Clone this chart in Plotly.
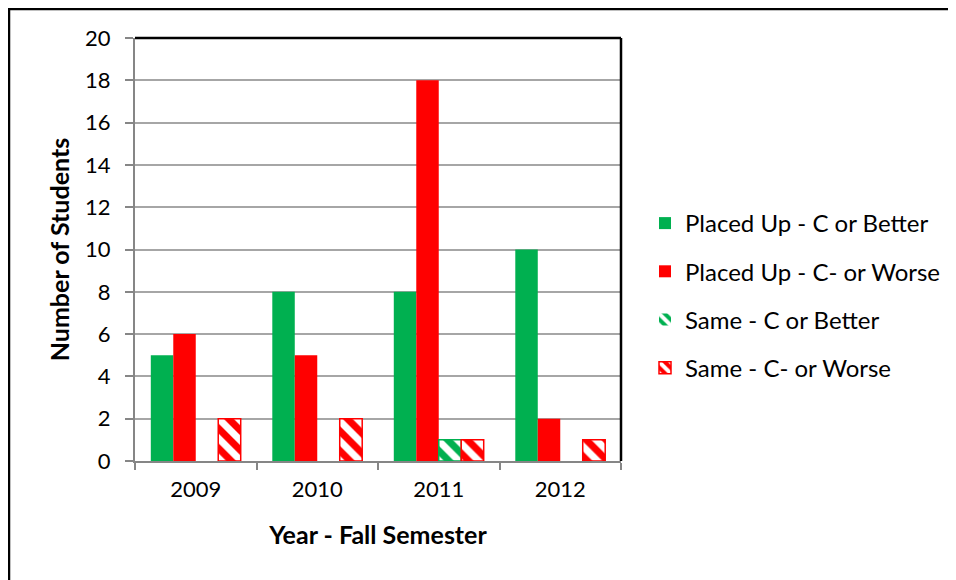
import plotly.graph_objects as go

years = ["2009", "2010", "2011", "2012"]
placed_up_c_better = [5, 8, 8, 10]
placed_up_c_worse = [6, 5, 18, 2]
same_c_better = [0, 0, 1, 0]
same_c_worse = [2, 2, 1, 1]
y_ticks = [0, 2, 4, 6, 8, 10, 12, 14, 16, 18, 20]

GREEN = "#00B050"
RED = "#FF0000"
FONT = "Lato, Liberation Sans, sans-serif"
FS = 22
FS_LEG = 24
FS_TITLE = 25

OFF = 8  # page body offset
L, R, T, B = 135 - OFF, 956 - 621 + OFF, 38 - OFF, 580 - 461 + OFF
W, H = 956, 580
pw, ph = W - L - R, H - T - B


def px(x):
    return (x - OFF - L) / pw


def py(y):
    return (H - B - (y - OFF)) / ph


def pat(color):
    return dict(shape="\\", fillmode="overlay", bgcolor=color,
                fgcolor="white", fgopacity=1, size=14, solidity=0.5)


fig = go.Figure()
fig.add_bar(x=years, y=placed_up_c_better, name="Placed Up - C or Better",
            marker=dict(color=GREEN, line=dict(width=0)), legendgroup="a")
fig.add_bar(x=years, y=placed_up_c_worse, name="Placed Up - C- or Worse",
            marker=dict(color=RED, line=dict(width=0)), legendgroup="b")
fig.add_bar(x=years, y=same_c_better, name="Same - C or Better",
            marker=dict(color=GREEN,
                        line=dict(color=GREEN, width=[1.5 if v else 0 for v in same_c_better]),
                        pattern=pat(GREEN)),
            legendgroup="c")
fig.add_bar(x=years, y=same_c_worse, name="Same - C- or Worse",
            marker=dict(color=RED,
                        line=dict(color=RED, width=[1.5 if v else 0 for v in same_c_worse]),
                        pattern=pat(RED)),
            legendgroup="d")

fig.update_layout(
    width=W, height=H,
    margin=dict(l=L, r=R, t=T, b=B, autoexpand=False),
    paper_bgcolor="white", plot_bgcolor="white",
    barmode="group", bargap=0.26, bargroupgap=0,
    font=dict(family=FONT, size=FS, color="black"),
    showlegend=True,
    legend=dict(x=px(645), y=py(201), xanchor="left", yanchor="top",
                font=dict(size=FS_LEG, family=FONT), tracegroupgap=14,
                itemwidth=30, bgcolor="rgba(0,0,0,0)"),
    xaxis=dict(
        type="category", showline=True, linecolor="#868686", linewidth=2,
        ticks="outside", tickson="boundaries", ticklen=7, tickcolor="#868686",
        tickwidth=2, tickfont=dict(size=FS, family=FONT), ticklabelstandoff=8,
        title=dict(text="<b>Year - Fall Semester</b>", font=dict(size=FS_TITLE, family=FONT),
                   standoff=25),
        showgrid=False,
    ),
    yaxis=dict(
        range=[0, 20], tickvals=y_ticks, showline=True, linecolor="#868686",
        linewidth=2, ticks="outside", ticklen=8, tickcolor="#868686", tickwidth=2,
        showgrid=True, gridcolor="#A6A6A6", gridwidth=2, zeroline=False,
        tickfont=dict(size=FS, family=FONT), ticklabelstandoff=10,
        title=dict(text="<b>Number of Students</b>", font=dict(size=FS_TITLE, family=FONT),
                   standoff=8),
    ),
    shapes=[
        dict(type="line", xref="paper", yref="paper", x0=0, x1=1, y0=1, y1=1,
             line=dict(color="black", width=2.5), layer="above"),
        dict(type="line", xref="paper", yref="paper", x0=1, x1=1, y0=0, y1=1,
             line=dict(color="black", width=2.5), layer="above"),
        dict(type="rect", xref="paper", yref="paper", x0=px(9), x1=px(990),
             y0=py(620), y1=py(9), line=dict(color="black", width=2.5),
             fillcolor="rgba(0,0,0,0)", layer="above"),
    ],
)

fig.write_html("out.html")
